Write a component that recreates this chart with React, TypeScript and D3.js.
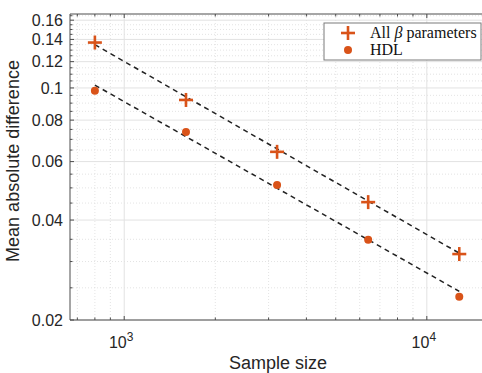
import { useEffect, useRef } from 'react';
import * as d3 from 'd3';

const sampleSizes = [800, 1600, 3200, 6400, 12800];
const allBeta = [0.137, 0.092, 0.0642, 0.0453, 0.0316];
const hdl = [0.098, 0.0737, 0.051, 0.0349, 0.0235];
// fitted power-law lines, values at first and last sample size
const fitEnds = [800, 12800];
const fitAllBeta = [0.135, 0.0318];
const fitHdl = [0.102, 0.0244];

const yTicks = [0.02, 0.04, 0.06, 0.08, 0.1, 0.12, 0.14, 0.16];
const xTicks = [1000, 10000];

const ORANGE = '#d95319';

export default function App() {
  const svgRef = useRef<SVGSVGElement>(null);

  useEffect(() => {
    if (!svgRef.current) return;
    const width = 482;
    const height = 373;
    const margin = { top: 14, right: -2, bottom: 53, left: 70 };
    const innerWidth = width - margin.left - margin.right;
    const innerHeight = height - margin.top - margin.bottom;

    const svg = d3.select(svgRef.current);
    svg.selectAll('*').remove();
    svg.attr('width', width).attr('height', height);

    const g = svg.append('g').attr('transform', `translate(${margin.left},${margin.top})`);

    const x = d3.scaleLog().domain([662, 15450]).range([0, innerWidth]);
    const y = d3.scaleLog().domain([0.02, 0.167]).range([innerHeight, 0]);

    // minor grid (dotted)
    const xMinor: number[] = [];
    for (const dec of [100, 1000, 10000]) {
      for (let k = 2; k <= 9; k++) {
        const v = dec * k;
        if (v > 662 && v < 15450) xMinor.push(v);
      }
    }
    const yMinor: number[] = [];
    for (let v = 0.025; v < 0.167; v += 0.005) {
      const r = Math.round(v * 1000) / 1000;
      if (!yTicks.some((t) => Math.abs(t - r) < 1e-6)) yMinor.push(r);
    }

    g.append('g')
      .selectAll('line')
      .data(xMinor)
      .join('line')
      .attr('x1', (d) => x(d))
      .attr('x2', (d) => x(d))
      .attr('y1', 0)
      .attr('y2', innerHeight)
      .attr('stroke', '#dcdcdc')
      .attr('stroke-width', 0.8)
      .attr('stroke-dasharray', '1,2');

    g.append('g')
      .selectAll('line')
      .data(yMinor)
      .join('line')
      .attr('x1', 0)
      .attr('x2', innerWidth)
      .attr('y1', (d) => y(d))
      .attr('y2', (d) => y(d))
      .attr('stroke', '#dcdcdc')
      .attr('stroke-width', 0.8)
      .attr('stroke-dasharray', '1,2');

    // major grid
    g.append('g')
      .selectAll('line')
      .data(xTicks)
      .join('line')
      .attr('x1', (d) => x(d))
      .attr('x2', (d) => x(d))
      .attr('y1', 0)
      .attr('y2', innerHeight)
      .attr('stroke', '#e2e2e2')
      .attr('stroke-width', 1);

    g.append('g')
      .selectAll('line')
      .data(yTicks)
      .join('line')
      .attr('x1', 0)
      .attr('x2', innerWidth)
      .attr('y1', (d) => y(d))
      .attr('y2', (d) => y(d))
      .attr('stroke', '#e2e2e2')
      .attr('stroke-width', 1);

    // axes box
    const axisColor = '#4d4d4d';
    g.append('line').attr('x1', 0).attr('x2', innerWidth).attr('y1', innerHeight).attr('y2', innerHeight).attr('stroke', axisColor);
    g.append('line').attr('x1', 0).attr('x2', 0).attr('y1', 0).attr('y2', innerHeight).attr('stroke', axisColor);
    g.append('line').attr('x1', 0).attr('x2', innerWidth).attr('y1', 0).attr('y2', 0).attr('stroke', axisColor);

    // ticks (inward)
    const tickLen = 4;
    const minorLen = 2.5;
    for (const v of xTicks) {
      g.append('line').attr('x1', x(v)).attr('x2', x(v)).attr('y1', innerHeight).attr('y2', innerHeight - tickLen).attr('stroke', axisColor);
      g.append('line').attr('x1', x(v)).attr('x2', x(v)).attr('y1', 0).attr('y2', tickLen).attr('stroke', axisColor);
    }
    for (const v of xMinor) {
      g.append('line').attr('x1', x(v)).attr('x2', x(v)).attr('y1', innerHeight).attr('y2', innerHeight - minorLen).attr('stroke', axisColor);
      g.append('line').attr('x1', x(v)).attr('x2', x(v)).attr('y1', 0).attr('y2', minorLen).attr('stroke', axisColor);
    }
    for (const v of yTicks) {
      g.append('line').attr('x1', 0).attr('x2', tickLen).attr('y1', y(v)).attr('y2', y(v)).attr('stroke', axisColor);
    }
    for (const v of yMinor) {
      g.append('line').attr('x1', 0).attr('x2', minorLen).attr('y1', y(v)).attr('y2', y(v)).attr('stroke', axisColor);
    }

    // tick labels
    const font = 'Liberation Sans, Arial, sans-serif';
    g.append('g')
      .selectAll('text')
      .data(yTicks)
      .join('text')
      .attr('x', -7)
      .attr('y', (d) => y(d))
      .attr('dy', '0.35em')
      .attr('text-anchor', 'end')
      .attr('font-family', font)
      .attr('font-size', 16)
      .attr('fill', '#262626')
      .text((d) => String(d));

    const xl = g
      .append('g')
      .selectAll('text')
      .data(xTicks)
      .join('text')
      .attr('x', (d) => x(d) - 3)
      .attr('y', innerHeight + 28)
      .attr('text-anchor', 'middle')
      .attr('font-family', font)
      .attr('font-size', 16)
      .attr('fill', '#262626');
    xl.append('tspan').text('10');
    xl.append('tspan')
      .attr('font-size', 12)
      .attr('dy', -7)
      .text((d) => String(Math.round(Math.log10(d))));

    // axis titles
    g.append('text')
      .attr('x', innerWidth / 2 + 1)
      .attr('y', innerHeight + 49)
      .attr('text-anchor', 'middle')
      .attr('font-family', font)
      .attr('font-size', 18)
      .attr('fill', '#262626')
      .text('Sample size');

    g.append('text')
      .attr('transform', `translate(${-51},${innerHeight / 2 - 6}) rotate(-90)`)
      .attr('text-anchor', 'middle')
      .attr('font-family', font)
      .attr('font-size', 18)
      .attr('fill', '#262626')
      .text('Mean absolute difference');

    // fit lines
    const line = d3
      .line<[number, number]>()
      .x((d) => x(d[0]))
      .y((d) => y(d[1]));
    for (const fit of [fitAllBeta, fitHdl]) {
      g.append('path')
        .datum(fitEnds.map((s, i) => [s, fit[i]] as [number, number]))
        .attr('d', line)
        .attr('fill', 'none')
        .attr('stroke', '#222')
        .attr('stroke-width', 1.5)
        .attr('stroke-dasharray', '5,4');
    }

    // markers
    const plusSize = 7;
    const drawPlus = (sel: d3.Selection<SVGGElement, unknown, null, undefined>, cx: number, cy: number) => {
      sel.append('line').attr('x1', cx - plusSize).attr('x2', cx + plusSize).attr('y1', cy).attr('y2', cy).attr('stroke', ORANGE).attr('stroke-width', 2.6);
      sel.append('line').attr('x1', cx).attr('x2', cx).attr('y1', cy - plusSize).attr('y2', cy + plusSize).attr('stroke', ORANGE).attr('stroke-width', 2.6);
    };
    const plusG = g.append('g');
    sampleSizes.forEach((s, i) => drawPlus(plusG, x(s), y(allBeta[i])));

    g.append('g')
      .selectAll('circle')
      .data(sampleSizes)
      .join('circle')
      .attr('cx', (d) => x(d))
      .attr('cy', (_, i) => y(hdl[i]))
      .attr('r', 4)
      .attr('fill', ORANGE);

    // legend
    const legend = svg.append('g').attr('transform', 'translate(324,23)');
    legend.append('rect').attr('width', 157).attr('height', 37).attr('fill', '#fff').attr('stroke', '#7a7a7a').attr('stroke-width', 1);
    drawPlus(legend as unknown as d3.Selection<SVGGElement, unknown, null, undefined>, 24, 10);
    legend.append('circle').attr('cx', 24).attr('cy', 27).attr('r', 4).attr('fill', ORANGE);
    const serif = 'Liberation Serif, Times New Roman, serif';
    const t1 = legend.append('text').attr('x', 46).attr('y', 15).attr('font-family', serif).attr('font-size', 16).attr('fill', '#111');
    t1.append('tspan').text('All ');
    t1.append('tspan').attr('font-style', 'italic').text('β');
    t1.append('tspan').text(' parameters');
    legend.append('text').attr('x', 46).attr('y', 32).attr('font-family', serif).attr('font-size', 16).attr('fill', '#111').text('HDL');
  }, []);

  return (
    <div style={{ position: 'absolute', left: 0, top: 0, width: 482, height: 373, background: '#fff' }}>
      <svg ref={svgRef} style={{ display: 'block' }} />
    </div>
  );
}
